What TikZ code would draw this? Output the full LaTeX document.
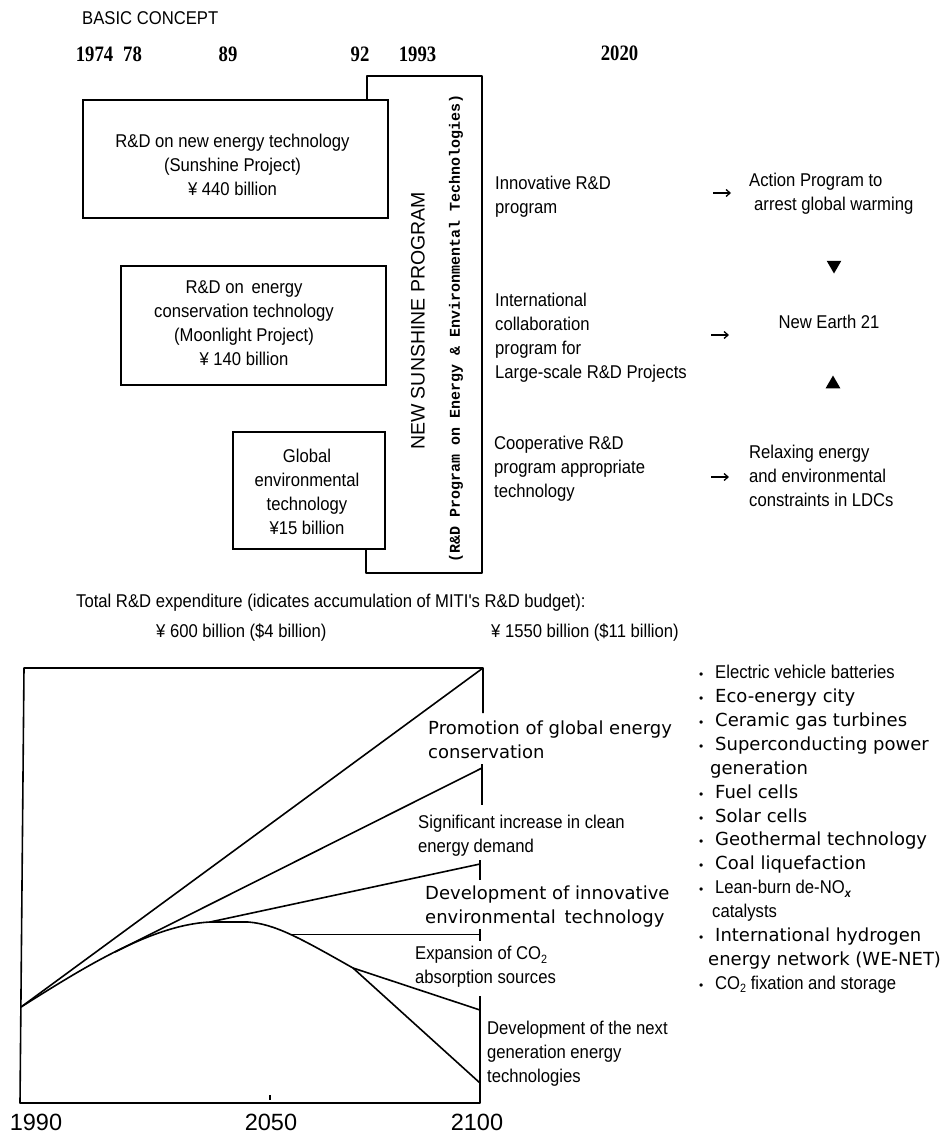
\documentclass[tikz,border=0pt]{standalone}
\usepackage{fontspec}
\setmainfont{Liberation Sans}
\newfontfamily\narf[FakeStretch=0.9]{Liberation Sans}
\newfontfamily\widf{DejaVu Sans}
\newfontfamily\yrf[FakeStretch=0.85]{Liberation Serif}
\newfontfamily\monof{Liberation Mono}
\usetikzlibrary{arrows.meta,shapes.geometric}
\newcommand\narsz{\narf\fontsize{18.5}{24}\selectfont}
\newcommand\widsz{\widf\fontsize{18}{24}\selectfont}
\newcommand\mysub[1]{\raisebox{-0.35ex}{\fontsize{12}{12}\selectfont #1}}
\newcommand\mybul{\makebox[16pt][l]{\fontsize{12}{12}\selectfont\textbullet}}
\begin{document}
\begin{tikzpicture}[x=1pt,y=-1pt,
  nar/.style={font=\narsz, inner sep=0pt, align=left},
  wid/.style={font=\widsz, inner sep=0pt, align=left},
  boxd/.style={draw, line width=1.6pt, inner sep=0pt},
  yr/.style={font=\yrf\bfseries\fontsize{22}{22}\selectfont, inner sep=0pt},
  ln/.style={line width=1.6pt, line join=round},
  arr/.style={line width=1.3pt, -{Straight Barb[length=4pt,width=7pt]}},
  tri/.style={regular polygon, regular polygon sides=3, fill, draw=none, inner sep=0pt, minimum size=17pt},
  axl/.style={font=\fontsize{23.5}{24}\selectfont, inner sep=0pt}]
\fill[white] (0,0) rectangle (948,1136);
\useasboundingbox (0,0) rectangle (948,1136);

% header
\node[nar, anchor=west] (basic) at (82,18.5) {BASIC CONCEPT};
\node[yr] (y1974) at (94.5,54) {1974};
\node[yr] (y78) at (132.5,54) {78};
\node[yr] (y89) at (228,54) {89};
\node[yr] (y92) at (360,54) {92};
\node[yr] (y1993) at (417.5,54) {1993};
\node[yr] (y2020) at (619.5,53) {2020};

% big box (New Sunshine Program)
\draw[ln] (367,100) |- (482,76) |- (366,573) -- (366,549);
\node[font=\fontsize{19.5}{20}\selectfont, rotate=90, inner sep=0pt] (nsp) at (418,321) {NEW SUNSHINE PROGRAM};
\node[font=\monof\bfseries\fontsize{15}{15}\selectfont, rotate=90, inner sep=0pt] (rdp) at (456,328) {(R\&D Program on Energy \& Environmental Technologies)};

% left boxes
\node[boxd, minimum width=305pt, minimum height=118pt] (b1) at (235.5,159) {};
\node[nar, align=center] (t1) at (232.5,164.5) {R\&D on new energy technology\\(Sunshine Project)\\¥ 440 billion};
\node[boxd, minimum width=265pt, minimum height=119pt] (b2) at (253.5,325.5) {};
\node[nar, align=center] (t2) at (244,323.5) {R\&D on\, energy\\conservation technology\\(Moonlight Project)\\¥ 140 billion};
\node[boxd, minimum width=152pt, minimum height=117pt] (b3) at (309,490.5) {};
\node[nar, align=center] (t3) at (307,491.5) {Global\\environmental\\technology\\¥15 billion};

% programs and results
\node[nar, anchor=north west] (p1) at (495,176) {Innovative R\&D\\program};
\node[nar, anchor=north west] (p2) at (495,293) {International\\collaboration\\program for\\Large-scale R\&D Projects};
\node[nar, anchor=north west] (p3) at (494,436) {Cooperative R\&D\\program appropriate\\technology};
\node[nar, anchor=north west] (r1) at (749,173) {Action Program to\\\hspace*{5pt}arrest global warming};
\node[nar] (r2) at (829,322) {New Earth 21};
\node[nar, anchor=north west] (r3) at (749,445) {Relaxing energy\\and environmental\\constraints in LDCs};
\coordinate (a1s) at (713,193); \coordinate (a1e) at (731,193);
\coordinate (a2s) at (711,335); \coordinate (a2e) at (729,335);
\coordinate (a3s) at (711,477); \coordinate (a3e) at (729,477);
\draw[arr] (a1s) -- (a1e);
\draw[arr] (a2s) -- (a2e);
\draw[arr] (a3s) -- (a3e);
\node[tri, shape border rotate=180] (tdown) at (834,265) {};
\node[tri] (tup) at (833,384) {};

% totals
\node[nar, anchor=west] (tot) at (76,603) {Total R\&D expenditure (idicates accumulation of MITI's R\&D budget):};
\node[nar, anchor=west] (c600) at (156,633) {¥ 600 billion (\$4 billion)};
\node[nar, anchor=west] (c1550) at (491,633) {¥ 1550 billion (\$11 billion)};

% chart
\coordinate (S) at (21,1007);
\coordinate (TL) at (24,668); \coordinate (TR) at (483,668);
\coordinate (BL) at (20,1103); \coordinate (BR) at (480,1103);
\coordinate (P1) at (210,922); \coordinate (P2) at (248,922);
\coordinate (K) at (353,968); \coordinate (B2) at (115,952); \coordinate (K4) at (291,934.5);
\draw[ln] (TR) -- (TL) -- (BL) -- (BR) -- (480,996);
\draw[ln] (S) -- (TR) -- (483,713);
\draw[ln] (S) .. controls (80,970) and (150,925) .. (P1) -- (P2) .. controls (275,924) and (300,938) .. (K) -- (480,1083);
\draw[ln] (B2) -- (482,768);
\draw[ln] (482,764) -- (482,805);
\draw[ln] (P1) -- (480,864);
\draw[ln] (480,860) -- (480,880);
\draw[ln] (K4) -- (480,934.5);
\draw[ln] (480,929) -- (480,941);
\draw[ln] (K) -- (480,1010);
\draw[line width=1.2pt] (270,1095) -- (270,1100);

\node[wid, anchor=north west] (c1) at (428,721) {Promotion of global energy\\conservation};
\node[nar, anchor=north west] (c2) at (418,815) {Significant increase in clean\\energy demand};
\node[wid, anchor=north west] (c3) at (425,886) {Development of innovative\\environmental\, technology};
\node[nar, anchor=north west] (c4) at (415,946) {Expansion of CO\mysub{2}\\absorption sources};
\node[nar, anchor=north west] (c5) at (487,1021) {Development of the next\\generation energy\\technologies};

\node[axl] (x1990) at (36,1122) {1990};
\node[axl] (x2050) at (271,1122) {2050};
\node[axl] (x2100) at (477,1122) {2100};

% list
\node[anchor=north west, inner sep=0pt, align=left, font=\fontsize{18}{23.9}\selectfont] (lst) at (699,665) {%
\mybul{\narsz Electric vehicle batteries}\\
\mybul{\widsz Eco-energy city}\\
\mybul{\widsz Ceramic gas turbines}\\
\mybul{\widsz Superconducting power}\\
\hspace*{11pt}{\widsz generation}\\
\mybul{\widsz Fuel cells}\\
\mybul{\widsz Solar cells}\\
\mybul{\widsz Geothermal technology}\\
\mybul{\widsz Coal liquefaction}\\
\mybul{\narsz Lean-burn de-NO\mysub{\textbf{\textit{x}}}}\\
\hspace*{13pt}{\narsz catalysts}\\
\mybul{\widsz International hydrogen}\\
\hspace*{9pt}{\widsz energy network (WE-NET)}\\
\mybul{\narsz CO\mysub{2} fixation and storage}};
\end{tikzpicture}
\end{document}
